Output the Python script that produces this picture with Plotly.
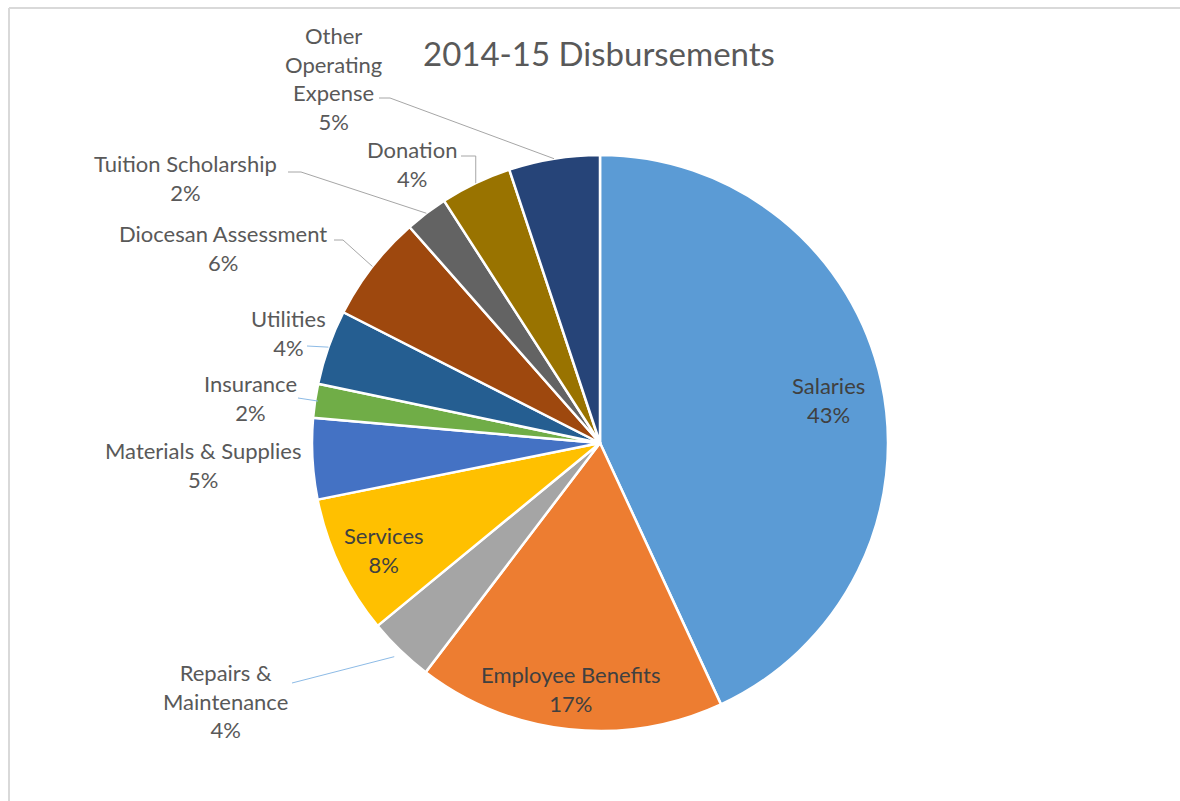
import math
import plotly.graph_objects as go

# ---- data ----
categories = ["Salaries", "Employee Benefits", "Repairs & Maintenance", "Services",
              "Materials & Supplies", "Insurance", "Utilities", "Diocesan Assessment",
              "Tuition Scholarship", "Donation", "Other Operating Expense"]
values = [43.1, 17.25, 3.7, 7.8, 4.55, 1.9, 4.2, 6.0, 2.4, 4.0, 5.1]
pct_labels = ["43%", "17%", "4%", "8%", "5%", "2%", "4%", "6%", "2%", "4%", "5%"]
label_text = ["Salaries", "Employee Benefits", "Repairs &<br>Maintenance", "Services",
              "Materials & Supplies", "Insurance", "Utilities", "Diocesan Assessment",
              "Tuition Scholarship", "Donation", "Other<br>Operating<br>Expense"]
title_text = "2014-15 Disbursements"

# ---- style / layout ----
colors = ["#5B9BD5", "#ED7D31", "#A5A5A5", "#FFC000", "#4472C4", "#70AD47",
          "#255E91", "#9E480E", "#636363", "#997300", "#264478"]
W, H = 1180, 801
CX, CY, R = 600, 443, 288
FONT = "Lato"
TXT = "#595959"
LABEL_SIZE = 22

# label centers (pixels) and leader-line style per slice
label_pos = [(828, 400), (571, 689), (225, 701), (384, 550), (203, 465), (250, 398),
             (288, 333), (223, 248), (185, 178), (412, 164), (333, 78)]
inside = [True, True, False, True, False, False, False, False, False, False, False]
leaders = [None, None,
           ("straight", (292, 683), 1.03),
           None, None,
           ("straight", (298, 398), 0.99),
           ("straight", (307, 346), 1.0),
           ("elbow", (334, 240), (343, 240)),
           ("elbow", (288, 172), (301, 172)),
           ("vertical", (461, 156), None),
           ("elbow", (379, 98), (390, 98))]


def px(x):
    return x / W


def py(y):
    return 1 - y / H


fig = go.Figure(go.Pie(
    labels=categories, values=values, sort=False, direction="clockwise", rotation=0,
    marker=dict(colors=colors, line=dict(color="white", width=2.5)),
    textinfo="none", hoverinfo="label+percent", showlegend=False,
    domain=dict(x=[px(CX - R), px(CX + R)], y=[py(CY + R), py(CY - R)]),
))

total = sum(values)
cum = 0
shapes = []
annotations = []
for i, v in enumerate(values):
    mid = (cum + v / 2) / total * 2 * math.pi
    cum += v
    sx, sy = math.sin(mid), -math.cos(mid)
    lx, ly = label_pos[i]
    annotations.append(dict(
        x=px(lx), y=py(ly), xref="paper", yref="paper", showarrow=False,
        text=f"{label_text[i]}<br>{pct_labels[i]}", align="center",
        xanchor="center", yanchor="middle",
        font=dict(family=FONT, size=LABEL_SIZE, color="#404040" if inside[i] else TXT)))
    ld = leaders[i]
    if ld is None:
        continue
    kind = ld[0]
    if kind == "straight":
        (x0, y0), rf = ld[1], ld[2]
        x1, y1 = CX + sx * R * rf, CY + sy * R * rf
        path = f"M {px(x0)},{py(y0)} L {px(x1)},{py(y1)}"
        col = "#8dbbe6"
    elif kind == "elbow":
        (x0, y0), (xe, ye) = ld[1], ld[2]
        x1, y1 = CX + sx * R, CY + sy * R
        path = f"M {px(x0)},{py(y0)} L {px(xe)},{py(ye)} L {px(x1)},{py(y1)}"
        col = "#a6a6a6"
    else:  # vertical
        (x0, y0) = ld[1]
        x1, y1 = CX + sx * R, CY + sy * R
        path = f"M {px(x0)},{py(y0)} L {px(x1)},{py(y0)} L {px(x1)},{py(y1)}"
        col = "#a6a6a6"
    shapes.append(dict(type="path", xref="paper", yref="paper", path=path,
                       line=dict(color=col, width=1)))

# chart-area border (left and top edges visible)
shapes.append(dict(type="line", xref="paper", yref="paper", x0=px(9), x1=px(9),
                   y0=py(8), y1=py(H + 5), line=dict(color="#d9d9d9", width=2)))
shapes.append(dict(type="line", xref="paper", yref="paper", x0=px(9), x1=px(W + 5),
                   y0=py(8), y1=py(8), line=dict(color="#d9d9d9", width=2)))

annotations.append(dict(x=px(599), y=py(53), xref="paper", yref="paper", showarrow=False,
                        text=title_text, xanchor="center", yanchor="middle",
                        font=dict(family=FONT, size=33, color=TXT)))

fig.update_layout(width=W, height=H, margin=dict(l=0, r=0, t=0, b=0),
                  paper_bgcolor="white", plot_bgcolor="white",
                  shapes=shapes, annotations=annotations)
fig.write_html("out.html")
